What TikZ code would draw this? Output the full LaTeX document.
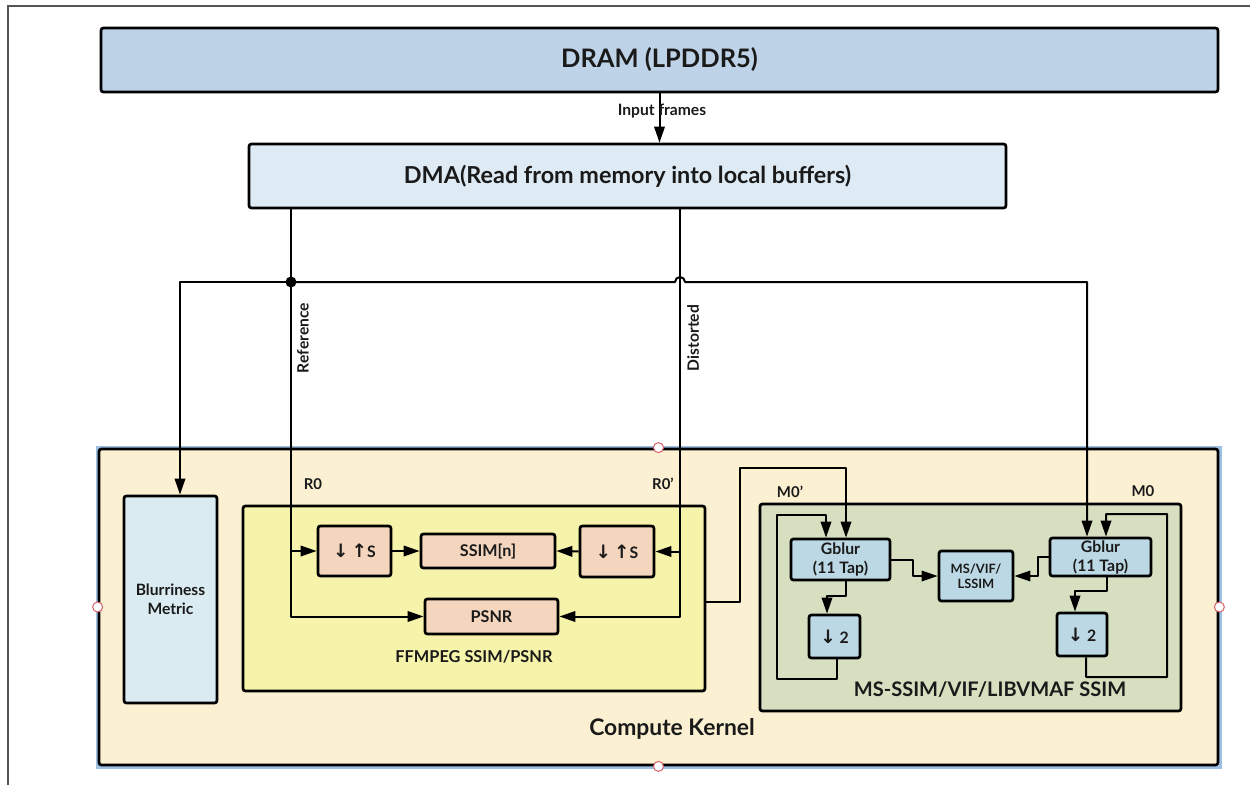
\documentclass[tikz,border=0pt]{standalone}
\usepackage{fontspec}
\setmainfont{Lato}
\newfontfamily\arrowfont{DejaVu Sans}
\usetikzlibrary{arrows.meta,fit}

\definecolor{dramfill}{HTML}{BED3E8}
\definecolor{dmafill}{HTML}{DEEBF5}
\definecolor{kernfill}{HTML}{FBF1D2}
\definecolor{blurfill}{HTML}{DAEBF1}
\definecolor{ffmfill}{HTML}{F6F3AA}
\definecolor{peach}{HTML}{F4D5BE}
\definecolor{sage}{HTML}{D7DFC1}
\definecolor{lblue}{HTML}{BCD8E4}
\definecolor{selblue}{HTML}{9DBFE3}
\definecolor{handle}{HTML}{D9606A}
\definecolor{txt}{HTML}{1A1A1A}
\definecolor{frame}{HTML}{555555}

\newcommand\fs[1]{\bfseries\fontsize{#1}{\fpeval{#1*1.2}}\selectfont}
\newcommand\arr[1]{{\arrowfont\fontsize{10.5}{12}\selectfont #1}}

\begin{document}
\begin{tikzpicture}[x=0.2mm,y=-0.2mm, text=txt,
  box/.style={draw=black, line width=0.55mm, rounded corners=0.5mm, inner sep=0pt},
  boxtext/.style={inner sep=0pt, align=center, text=txt},
  lbl/.style={inner sep=0pt, font=\fs{8.5}},
  wire/.style={line width=0.4mm, line join=round},
  conn/.style={wire, -{Triangle[length=3.2mm,width=2.1mm]}}]

\useasboundingbox (0,0) rectangle (1250,785);

% page frame
\draw[frame, line width=0.25mm] (8,785) -- (8,6) -- (1250,6);

% memory side
\node[box, fill=dramfill, fit={(101,28) (1218,92)},
  label={[boxtext, font=\fs{14.5}]center:DRAM (LPDDR5)}] (dram) {};
\node[box, fill=dmafill, fit={(249,144) (1006,208)},
  label={[boxtext, font=\fs{13.3}]center:DMA(Read from memory into local buffers)}] (dma) {};

\draw[conn] (dram.south) -- (dram.south |- dma.north);
\node[lbl, font=\fs{8.9}] (inlbl) at (662,111) {Input frames};

% compute kernel container with its selection outline and handles
\draw[selblue, line width=0.6mm] (97,447) rectangle (1220,767);
\node[box, fill=kernfill, fit={(99,449) (1218,765)}] (kernel) {};
\node[lbl, font=\fs{13}] (kernlbl) at (672,729) {Compute Kernel};

% blurriness metric
\node[box, fill=blurfill, fit={(124,496) (217,703)},
  label={[boxtext, font=\fs{8.9}]center:Blurriness\\Metric}] (blur) {};

% FFMPEG group
\node[box, fill=ffmfill, fit={(243,506) (705,691)}] (ffm) {};
\node[lbl, font=\fs{9.3}] (ffmlbl) at (474,657) {FFMPEG SSIM/PSNR};
\node[lbl] (r0) at (313,484) {R0};
\node[lbl] (r0p) at (663,484) {R0'};

\node[box, fill=peach, fit={(318,526) (391,576)},
  label={[boxtext, font=\fs{9}]center:\arr{↓\,↑}S}] (dsL) {};
\node[box, fill=peach, fit={(421,534) (555,568)},
  label={[boxtext, font=\fs{9.2}]center:SSIM[n]}] (ssim) {};
\node[box, fill=peach, fit={(580,526) (654,577)},
  label={[boxtext, font=\fs{9}]center:\arr{↓\,↑}S}] (dsR) {};
\node[box, fill=peach, fit={(425,599) (558,634)},
  label={[boxtext, font=\fs{9.2}]center:PSNR}] (psnr) {};

% MS-SSIM / VIF group
\node[box, fill=sage, fit={(760,504) (1181,711)}] (ms) {};
\node[lbl, font=\fs{11.4}] (mslbl) at (990,690) {MS-SSIM/VIF/LIBVMAF SSIM};
\node[lbl] (m0p) at (790,492) {M0'};
\node[lbl] (m0) at (1143,491) {M0};

\node[box, fill=lblue, fit={(791,539) (890,580)},
  label={[boxtext, font=\fs{9}]center:Gblur\\(11 Tap)}] (gbL) {};
\node[box, fill=lblue, fit={(809,615) (860,658)},
  label={[boxtext, font=\fs{9}]center:\arr{↓} 2}] (d2L) {};
\node[box, fill=lblue, fit={(939,551) (1013,601)},
  label={[boxtext, font=\fs{7.3}]center:MS/VIF/\\LSSIM}] (msv) {};
\node[box, fill=lblue, fit={(1050,538) (1151,576)},
  label={[boxtext, font=\fs{9}]center:Gblur\\(11 Tap)}] (gbR) {};
\node[box, fill=lblue, fit={(1057,613) (1107,656)},
  label={[boxtext, font=\fs{9}]center:\arr{↓} 2}] (d2R) {};

% selection handles
\foreach \p in {kernel.north, kernel.south, kernel.west, kernel.east}
  \draw[handle, fill=white, line width=0.2mm] (\p) circle[radius=1mm];

% reference / distorted feeds
\coordinate (jn) at (291,282);
\coordinate (hop) at (680,282);
\coordinate (m0in) at ([xshift=-2.7mm]gbR.north);

\draw[conn] (dma.south -| jn) |- (psnr.west);
\draw[conn] (jn |- dsL.west) -- (dsL.west);
\draw[conn] (dma.south -| hop) |- (psnr.east);
\draw[conn] (hop |- dsR.east) -- (dsR.east);
\draw[conn] (dsL.east) -- (ssim.west);
\draw[conn] (dsR.west) -- (ssim.east);

\draw[conn] (jn) -| ([xshift=1.9mm]blur.north);
\draw[conn] (jn) -- ([xshift=-1mm]hop) arc[start angle=180, end angle=0, radius=1mm]
  -- (hop -| m0in) -- (m0in);
\fill (jn) circle[radius=1.1mm];

\node[lbl, rotate=90, font=\fs{8.9}] (reflbl) at (303,338) {Reference};
\node[lbl, rotate=90, font=\fs{8.9}] (dislbl) at (693,338) {Distorted};

% distorted frame into the multi-scale path
\draw[conn] ([yshift=-0.7mm]ffm.east) -| (740,468) -| ([xshift=1.1mm]gbL.north);

% left multi-scale loop
\draw[conn] (gbL.east) -| (913,576) -- (msv.west);
\draw[conn] ([xshift=1.1mm]gbL.south) -- ++(0,15) -| ([xshift=-1.5mm]d2L.north);
\draw[conn] ([xshift=0.5mm]d2L.south) -- (837,679) -| (777,515)
  -| ([xshift=-2.9mm]gbL.north);

% right multi-scale loop
\draw[conn] (gbR.west) -| (1038,576) -- (msv.east);
\draw[conn] ([xshift=1.3mm]gbR.south) -- ++(0,14) -| ([xshift=-1.4mm]d2R.north);
\draw[conn] ([xshift=0.8mm]d2R.south) -- (1086,677) -| (1167,514)
  -| ([xshift=1.1mm]gbR.north);

\end{tikzpicture}
\end{document}
